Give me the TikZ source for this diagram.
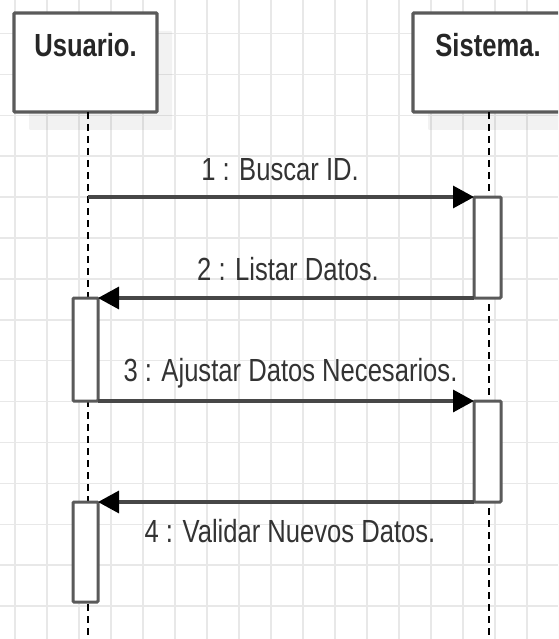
\documentclass[tikz,border=0pt]{standalone}
\usepackage{fontspec}
\usetikzlibrary{arrows.meta,shadows}
\newfontfamily\lblfont[FakeStretch=0.8]{Liberation Sans}
\definecolor{gridc}{HTML}{E8E8E8}
\definecolor{boxc}{HTML}{5A5A5A}
\definecolor{arrc}{HTML}{474747}
\definecolor{txtc}{HTML}{333333}
\tikzset{
  gridline/.style={draw=gridc, line width=1.5pt},
  header/.style={draw=boxc, line width=3.3pt, fill=white, rectangle, rounded corners=1pt,
    inner sep=0pt, outer sep=0pt, minimum width=143pt, text height=44pt, text depth=55pt,
    font=\lblfont\bfseries\fontsize{32}{38}\selectfont, text=black!85,
    drop shadow={shadow xshift=15pt, shadow yshift=-18pt, fill=black, opacity=0.05}},
  lifeline/.style={draw=black, line width=2pt, dash pattern=on 7pt off 5pt},
  actbox/.style={draw=boxc, line width=3pt, fill=white, rectangle, rounded corners=1pt,
    inner sep=0pt, outer sep=0pt},
  msg/.style={draw=arrc, line width=3.3pt, -{Triangle[length=21pt,width=22pt,color=black]}},
  lbl/.style={font=\lblfont\fontsize{32}{38}\selectfont, text=txtc, inner sep=0pt, anchor=base}
}
\begin{document}
\begin{tikzpicture}[x=1pt,y=-1pt]
\useasboundingbox (0,0) rectangle (558,639);
\clip (0,0) rectangle (558,639);
\fill[white] (0,0) rectangle (558,639);
% grid
\foreach \i in {0,...,17} \draw[gridline] ({15+32*\i},0) -- ({15+32*\i},639);
\foreach \j in {0,...,15} \draw[gridline] (0,{33.5+40.9*\j}) -- (558,{33.5+40.9*\j});
% headers
\node[header, anchor=north west] (usuario) at (14,13) {Usuario.};
\node[header, anchor=north west, minimum width=150pt] (sistema) at (413,13) {Sistema.};
% lifelines
\coordinate (uEnd) at (87.5,639);
\coordinate (sEnd) at (489,639);
\draw[lifeline] (usuario.south -| uEnd) -- (uEnd);
\draw[lifeline] (sistema.south -| sEnd) -- (sEnd);
% activations
\node[actbox, anchor=north west, minimum width=27pt, minimum height=101pt] (act1) at (474,197) {};
\node[actbox, anchor=north west, minimum width=25pt, minimum height=103pt] (act2) at (73,298) {};
\node[actbox, anchor=north west, minimum width=27pt, minimum height=101pt] (act3) at (474,401) {};
\node[actbox, anchor=north west, minimum width=25pt, minimum height=100pt] (act4) at (73,502) {};
% messages
\coordinate (m1) at (87.5,197);
\draw[msg] (m1) -- (act1.north west);
\draw[msg] (act1.south west) -- (act2.north east);
\draw[msg] (act2.south east) -- (act3.north west);
\draw[msg] (act3.south west) -- (act4.north east);
% labels
\node[lbl] (l1) at (280,181) {1 : Buscar ID.};
\node[lbl] (l2) at (288,280) {2 : Listar Datos.};
\node[lbl] (l3) at (290.5,381.5) {3 : Ajustar Datos Necesarios.};
\node[lbl] (l4) at (290,542) {4 : Validar Nuevos Datos.};
\end{tikzpicture}
\end{document}
